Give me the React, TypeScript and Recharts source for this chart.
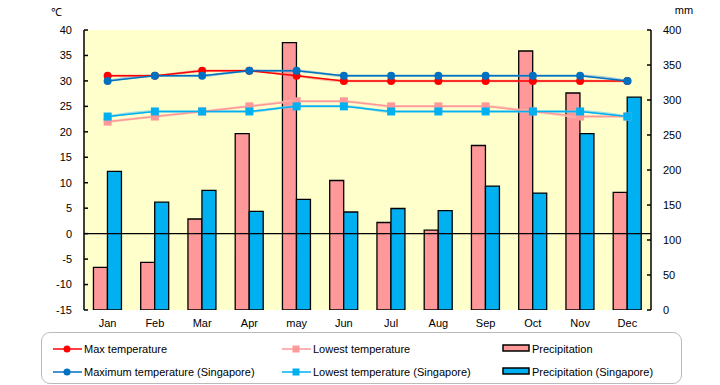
import React from 'react';
import {
  ComposedChart, Bar, Line, XAxis, YAxis, CartesianGrid, ReferenceLine, Legend, Label,
} from 'recharts';

const months = ['Jan', 'Feb', 'Mar', 'Apr', 'may', 'Jun', 'Jul', 'Aug', 'Sep', 'Oct', 'Nov', 'Dec'];
const maxTemp = [31, 31, 32, 32, 31, 30, 30, 30, 30, 30, 30, 30];
const lowTemp = [22, 23, 24, 25, 26, 26, 25, 25, 25, 24, 23, 23];
const precip = [61, 68, 130, 252, 382, 185, 125, 114, 235, 370, 310, 168];
const sgMax = [30, 31, 31, 32, 32, 31, 31, 31, 31, 31, 31, 30];
const sgLow = [23, 24, 24, 24, 25, 25, 24, 24, 24, 24, 24, 23];
const sgPrecip = [198, 154, 171, 141, 158, 140, 145, 142, 177, 167, 252, 304];

const tempTicks = [-15, -10, -5, 0, 5, 10, 15, 20, 25, 30, 35, 40];
const precipTicks = [0, 50, 100, 150, 200, 250, 300, 350, 400];

const data = months.map((m, i) => ({
  month: m,
  maxTemp: maxTemp[i],
  lowTemp: lowTemp[i],
  precip: precip[i],
  sgMax: sgMax[i],
  sgLow: sgLow[i],
  sgPrecip: sgPrecip[i],
}));

const FONT = '"Liberation Sans", Arial, sans-serif';
const RED = '#FF0000';
const BLUE = '#0070C0';
const PINK = '#FF9999';
const CYAN = '#00B0F0';

const circleDot = (color: string) => (props: any) => (
  <circle key={`c-${props.index}`} cx={props.cx} cy={props.cy} r={4} fill={color} stroke="none" />
);
const squareDot = (color: string) => (props: any) => (
  <rect key={`s-${props.index}`} x={props.cx - 4} y={props.cy - 4} width={8} height={8} fill={color} stroke="none" />
);

type LegendItem = { name: string; color: string; kind: 'circle' | 'square' | 'bar'; col: number; row: number };
const legendItems: LegendItem[] = [
  { name: 'Max temperature', color: RED, kind: 'circle', col: 0, row: 0 },
  { name: 'Lowest temperature', color: PINK, kind: 'square', col: 1, row: 0 },
  { name: 'Precipitation', color: PINK, kind: 'bar', col: 2, row: 0 },
  { name: 'Maximum temperature (Singapore)', color: BLUE, kind: 'circle', col: 0, row: 1 },
  { name: 'Lowest temperature (Singapore)', color: CYAN, kind: 'square', col: 1, row: 1 },
  { name: 'Precipitation (Singapore)', color: CYAN, kind: 'bar', col: 2, row: 1 },
];
const colX = [11, 240, 460];
const rowY = [16, 39];

const Icon = ({ item }: { item: LegendItem }) => {
  if (item.kind === 'bar') {
    return (
      <svg width={28} height={10} style={{ display: 'block' }}>
        <rect x={1} y={1} width={26} height={6} fill={item.color} stroke="#000" strokeWidth={1.5} />
      </svg>
    );
  }
  return (
    <svg width={29} height={10} style={{ display: 'block' }}>
      <line x1={0} y1={5} x2={29} y2={5} stroke={item.color} strokeWidth={1.5} />
      {item.kind === 'circle' ? (
        <circle cx={14} cy={5} r={3.5} fill={item.color} />
      ) : (
        <rect x={10.5} y={1.5} width={7} height={7} fill={item.color} />
      )}
    </svg>
  );
};

const CustomLegend = () => (
  <div
    style={{
      position: 'relative',
      width: 641,
      height: 52,
      boxSizing: 'border-box',
      border: '1.5px solid #BBBBBB',
      borderRadius: 9,
      fontFamily: FONT,
      fontSize: 11,
      color: '#000',
      background: '#fff',
    }}
  >
    {legendItems.map((it) => (
      <div
        key={it.name}
        style={{
          position: 'absolute',
          left: colX[it.col],
          top: rowY[it.row] - 8,
          height: 16,
          display: 'flex',
          alignItems: 'center',
          whiteSpace: 'nowrap',
        }}
      >
        <Icon item={it} />
        <span style={{ marginLeft: 2 }}>{it.name}</span>
      </div>
    ))}
  </div>
);

export default function App() {
  return (
    <div style={{ width: 720, height: 385, position: 'relative', margin: '-8px 0 0 -8px' }}>
      <ComposedChart
        width={720}
        height={385}
        data={data}
        margin={{ top: 30, right: 19, bottom: 55, left: 34 }}
        barCategoryGap="20%"
        barGap={0}
      >
        <CartesianGrid horizontal={false} vertical={false} fill="#FFFFCC" />
        <XAxis
          dataKey="month"
          axisLine={false}
          tickLine={false}
          tickSize={0}
          tickMargin={9}
          height={20}
          interval={0}
          tick={{ fill: '#000', fontSize: 11, fontFamily: FONT }}
        />
        <YAxis
          yAxisId="left"
          orientation="left"
          width={50}
          domain={[-15, 40]}
          ticks={tempTicks}
          interval={0}
          allowDataOverflow
          tickSize={-4}
          tickMargin={16}
          axisLine={{ stroke: '#000', strokeWidth: 1.5 }}
          tickLine={{ stroke: '#000', strokeWidth: 1.5 }}
          tick={{ fill: '#000', fontSize: 11, fontFamily: FONT }}
        >
          <Label value="℃" position="top" offset={14} dx={-3} fill="#000" fontSize={11} fontFamily={FONT} />
        </YAxis>
        <YAxis
          yAxisId="right"
          orientation="right"
          width={50}
          domain={[0, 400]}
          ticks={precipTicks}
          interval={0}
          allowDataOverflow
          tickSize={-4}
          tickMargin={16}
          axisLine={{ stroke: '#000', strokeWidth: 1.5 }}
          tickLine={{ stroke: '#000', strokeWidth: 1.5 }}
          tick={{ fill: '#000', fontSize: 11, fontFamily: FONT, textAnchor: 'start' }}
        >
          <Label value="mm" position="top" offset={16} dx={8} fill="#000" fontSize={11} fontFamily={FONT} />
        </YAxis>

        <Bar yAxisId="right" dataKey="precip" name="Precipitation" fill={PINK} stroke="#000" strokeWidth={1.3} isAnimationActive={false} />
        <Bar yAxisId="right" dataKey="sgPrecip" name="Precipitation (Singapore)" fill={CYAN} stroke="#000" strokeWidth={1.3} isAnimationActive={false} />

        <ReferenceLine yAxisId="left" y={0} stroke="#000" strokeWidth={1.3} />

        <Line yAxisId="left" type="monotone" dataKey="maxTemp" stroke="#F08080" strokeOpacity={0.55} strokeWidth={2.5} dot={false} activeDot={false} legendType="none" isAnimationActive={false} />
        <Line yAxisId="left" type="monotone" dataKey="lowTemp" stroke="#FFC8B8" strokeOpacity={0.8} strokeWidth={2.5} dot={false} activeDot={false} legendType="none" isAnimationActive={false} />
        <Line yAxisId="left" type="monotone" dataKey="sgMax" stroke="#5FA8D8" strokeOpacity={0.55} strokeWidth={2.5} dot={false} activeDot={false} legendType="none" isAnimationActive={false} />
        <Line yAxisId="left" type="monotone" dataKey="sgLow" stroke="#70D0E8" strokeOpacity={0.7} strokeWidth={2.5} dot={false} activeDot={false} legendType="none" isAnimationActive={false} />

        <Line yAxisId="left" type="linear" dataKey="maxTemp" name="Max temperature" stroke={RED} strokeWidth={1.5} dot={circleDot(RED)} activeDot={false} isAnimationActive={false} />
        <Line yAxisId="left" type="linear" dataKey="lowTemp" name="Lowest temperature" stroke={PINK} strokeWidth={1.5} dot={squareDot(PINK)} activeDot={false} isAnimationActive={false} />
        <Line yAxisId="left" type="linear" dataKey="sgMax" name="Maximum temperature (Singapore)" stroke={BLUE} strokeWidth={1.5} dot={circleDot(BLUE)} activeDot={false} isAnimationActive={false} />
        <Line yAxisId="left" type="linear" dataKey="sgLow" name="Lowest temperature (Singapore)" stroke={CYAN} strokeWidth={1.5} dot={squareDot(CYAN)} activeDot={false} isAnimationActive={false} />

        <Legend
          layout="horizontal"
          verticalAlign="middle"
          align="center"
          content={() => <CustomLegend />}
          wrapperStyle={{ left: 41, top: 332, width: 641, height: 52 }}
        />
      </ComposedChart>
    </div>
  );
}
